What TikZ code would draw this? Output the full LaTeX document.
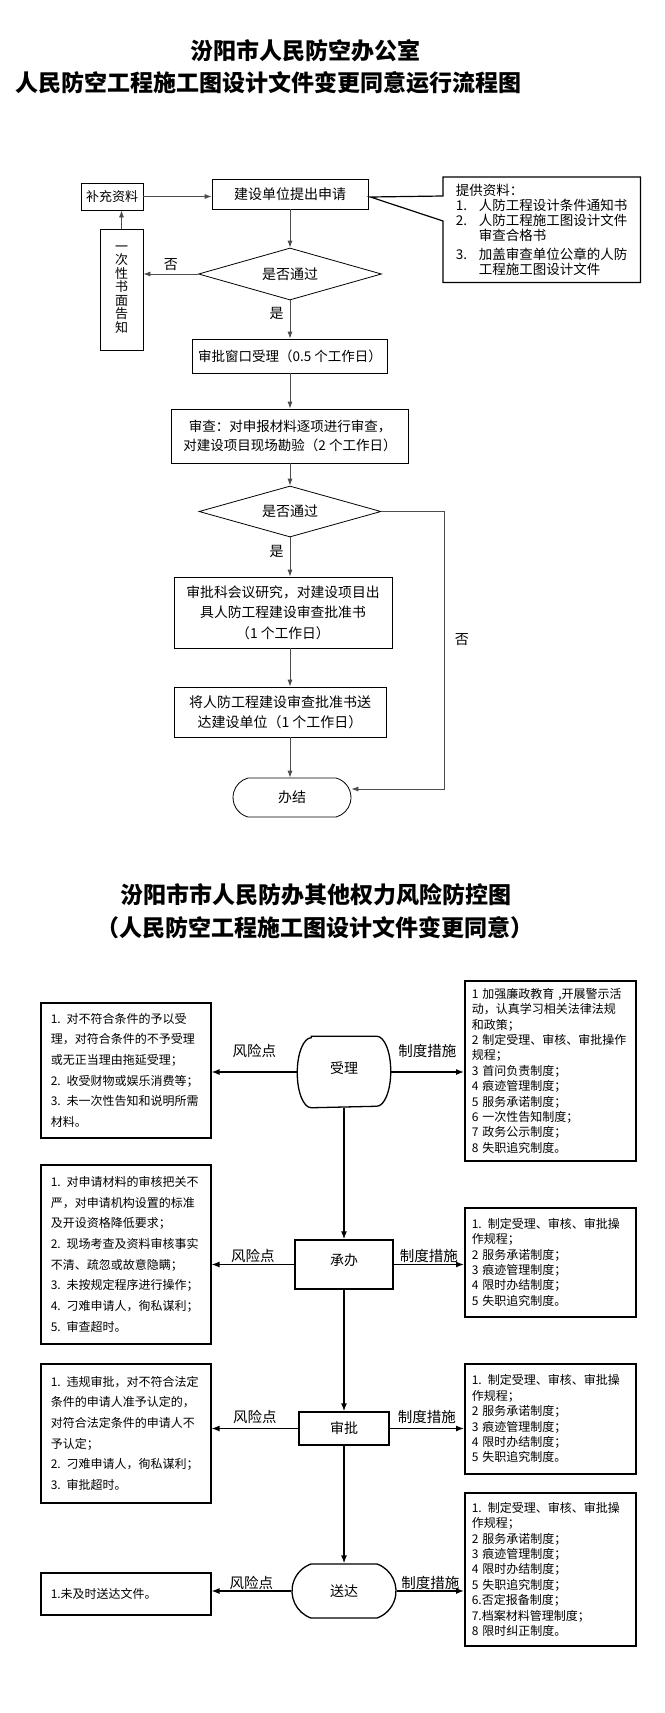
\documentclass[tikz,border=0pt]{standalone}
\usepackage{fontspec}
\setmainfont{Noto Sans CJK SC}
\usetikzlibrary{shapes.geometric,shapes.misc,arrows.meta,positioning,calc}

\newcommand{\fsz}[2]{\fontsize{#1pt}{#2pt}\selectfont}

\begin{document}
\begin{tikzpicture}[
    x=1pt, y=-1pt,
    title/.style={font=\fsz{23}{26}\bfseries, inner sep=0pt},
    box/.style={rectangle, draw, line width=0.8pt, align=center, inner sep=0pt, font=\fsz{13.5}{19}},
    choice/.style={diamond, draw, line width=0.8pt, aspect=3.5, inner sep=0pt, font=\fsz{14}{16}},
    terminal/.style={rounded rectangle, draw, line width=1.2pt, inner sep=0pt, font=\fsz{14}{16}},
    arrow/.style={-{Latex[length=7pt,width=5pt]}, line width=0.8pt, draw=black!70},
    riskbox/.style={rectangle, draw, line width=1.5pt, anchor=north west, align=left, inner ysep=0pt},
    lrisk/.style={riskbox, minimum width=170pt, text width=150pt, inner xsep=10pt, font=\fsz{12}{20.7}},
    rrisk/.style={riskbox, minimum width=171pt, text width=157pt, inner xsep=7pt, font=\fsz{12}{15.4}},
    stage/.style={rectangle, draw, line width=1.5pt, inner sep=0pt, font=\fsz{14}{16}},
    rarrow/.style={-{Latex[length=8pt,width=6pt]}, line width=1.3pt},
    lbl/.style={font=\fsz{14.5}{16}, inner sep=0pt}
]
\fill[white] (0,0) rectangle (664,1713);
\useasboundingbox (0,0) rectangle (664,1713);

% Titles
\node[title] (t1) at (305,51) {汾阳市人民防空办公室};
\node[title] (t2) at (268,83) {人民防空工程施工图设计文件变更同意运行流程图};

% Application flow
\node[box, font=\fsz{13}{15}, minimum width=62pt, minimum height=27pt] (bczl) at (112,196.5) {补充资料};
\node[box, font=\fsz{14}{16}, minimum width=156pt, minimum height=30pt] (sq) at (290,194) {建设单位提出申请};
\node[anchor=north west, align=left, inner xsep=10pt, inner ysep=0pt, minimum width=197pt, minimum height=105pt, font=\fsz{13.5}{15}] (zl) at (443,177) {提供资料：\\
\makebox[23pt][l]{1.}人防工程设计条件通知书\\
\makebox[23pt][l]{2.}人防工程施工图设计文件\\
\hspace*{23pt}审查合格书\\[4pt]
\makebox[23pt][l]{3.}加盖审查单位公章的人防\\
\hspace*{23pt}工程施工图设计文件};
\node[choice, minimum width=183pt, minimum height=52pt] (pass1) at (290,274) {是否通过};
\node[box, font=\fsz{13}{13.5}, minimum width=43pt, minimum height=121pt] (yici) at (121.5,289.5) {一\\次\\性\\书\\面\\告\\知};
\node[box, minimum width=195pt, minimum height=34pt] (ck) at (290,356) {审批窗口受理（0.5 个工作日）};
\node[box, minimum width=237pt, minimum height=54pt] (sc) at (290,436) {审查：对申报材料逐项进行审查，\\对建设项目现场勘验（2 个工作日）};
\node[choice, minimum width=182pt, minimum height=51pt] (pass2) at (290,511.5) {是否通过};
\node[box, font=\fsz{13.8}{20.5}, minimum width=218pt, minimum height=71pt] (spk) at (283,612.5) {审批科会议研究，对建设项目出\\具人防工程建设审查批准书\\（1 个工作日）};
\node[box, font=\fsz{14}{20}, minimum width=212pt, minimum height=50pt] (sd) at (280,712) {将人防工程建设审查批准书送\\达建设单位（1 个工作日）};
\node[terminal, line width=0.8pt, rounded rectangle arc length=150, minimum width=118pt, minimum height=39pt] (bj) at (292,797.5) {办结};

% Callout outline
\draw[line width=1.2pt] (zl.north west) -- (zl.north east) -- (zl.south east) -- (zl.south west)
    -- ([yshift=-44pt]zl.north west) -- ([xshift=2pt,yshift=-3pt]sq.east) -- ([yshift=-19pt]zl.north west) -- cycle;

% Arrows
\draw[arrow] (bczl.east) -- (bczl.east -| sq.west);
\draw[arrow] (sq.south) -- (pass1.north);
\draw[arrow] (pass1.west) -- (pass1.west -| yici.east) node[midway, above=3pt, font=\fsz{14}{16}, inner sep=0pt] {否};
\draw[arrow] (yici.north) -- (yici.north |- bczl.south);
\draw[arrow] (pass1.south) -- (ck.north) node[pos=0.33, left=6pt, font=\fsz{14}{16}, inner sep=0pt] {是};
\draw[arrow] (ck) -- (sc);
\draw[arrow] (sc) -- (pass2);
\draw[arrow] (pass2.south) -- (pass2.south |- spk.north) node[pos=0.37, left=6pt, font=\fsz{14}{16}, inner sep=0pt] {是};
\draw[arrow] (pass2.south |- spk.south) -- (pass2.south |- sd.north);
\draw[arrow] (pass2.south |- sd.south) -- (pass2.south |- bj.north);
\draw[arrow] (pass2.east) -- ++(63,0) |- ([yshift=8.5pt]bj.east) node[pos=0.23, right=10pt, font=\fsz{14}{16}, inner sep=0pt] {否};

% Risk control chart
\node[title] (t3) at (316,895) {汾阳市市人民防办其他权力风险防控图};
\node[title] (t4) at (315,928) {（人民防空工程施工图设计文件变更同意）};

% Stages
\node[stage, draw=none, minimum width=92pt, minimum height=70pt] (sl) at (344,1072) {\raisebox{8pt}{受理}};
\draw[line width=1.3pt] ([xshift=14pt]sl.north west) -- ([xshift=-14pt]sl.north east)
    arc[start angle=90, end angle=-90, x radius=14pt, y radius=35pt] -- ([xshift=14pt]sl.south west)
    arc[start angle=270, end angle=90, x radius=14pt, y radius=35pt] -- cycle;
\node[stage, minimum width=98pt, minimum height=49pt] (cb) at (344,1264.5) {\raisebox{9pt}{承办}};
\node[stage, minimum width=90pt, minimum height=33pt] (sp) at (344,1428.5) {审批};
\node[terminal, line width=1.3pt, rounded rectangle arc length=140, minimum width=104pt, minimum height=54pt] (sdd) at (344,1591) {送达};

% Risk points
\node[lrisk, minimum height=135pt] (fx1) at (40,1002) {1. 对不符合条件的予以受\\理，对符合条件的不予受理\\或无正当理由拖延受理；\\2. 收受财物或娱乐消费等；\\3. 未一次性告知和说明所需\\材料。};
\node[lrisk, minimum height=179pt] (fx2) at (40,1164) {1. 对申请材料的审核把关不\\严，对申请机构设置的标准\\及开设资格降低要求；\\2. 现场考查及资料审核事实\\不清、疏忽或故意隐瞒；\\3. 未按规定程序进行操作；\\4. 刁难申请人，徇私谋利；\\5. 审查超时。};
\node[lrisk, minimum height=139pt] (fx3) at (40,1363) {1. 违规审批，对不符合法定\\条件的申请人准予认定的，\\对符合法定条件的申请人不\\予认定；\\2. 刁难申请人，徇私谋利；\\3. 审批超时。};
\node[lrisk, minimum height=42pt] (fx4) at (40,1572) {1.未及时送达文件。};

% Control measures
\node[rrisk, minimum height=180pt] (zd1) at (464,980) {1 加强廉政教育 ,开展警示活\\动，认真学习相关法律法规\\和政策；\\2 制定受理、审核、审批操作\\规程；\\3 首问负责制度；\\4 痕迹管理制度；\\5 服务承诺制度；\\6 一次性告知制度；\\7 政务公示制度；\\8 失职追究制度。};
\node[rrisk, minimum height=109pt] (zd2) at (464,1207) {1. 制定受理、审核、审批操\\作规程；\\2 服务承诺制度；\\3 痕迹管理制度；\\4 限时办结制度；\\5 失职追究制度。};
\node[rrisk, minimum height=110pt] (zd3) at (464,1363) {1. 制定受理、审核、审批操\\作规程；\\2 服务承诺制度；\\3 痕迹管理制度；\\4 限时办结制度；\\5 失职追究制度。};
\node[rrisk, minimum height=153pt] (zd4) at (464,1492) {1. 制定受理、审核、审批操\\作规程；\\2 服务承诺制度；\\3 痕迹管理制度；\\4 限时办结制度；\\5 失职追究制度；\\6.否定报备制度；\\7.档案材料管理制度；\\8 限时纠正制度。};

% Connections
\draw[rarrow] (sl.west) -- (sl.west -| fx1.east) node[lbl, midway, above=14pt] {风险点};
\draw[rarrow] (sl.east) -- (sl.east -| zd1.west) node[lbl, midway, above=14pt] {制度措施};
\draw[rarrow] (cb.west) -- (cb.west -| fx2.east) node[lbl, midway, above=1.5pt] {风险点};
\draw[rarrow] (cb.east) -- (cb.east -| zd2.west) node[lbl, midway, above=1.5pt] {制度措施};
\draw[rarrow] (sp.west) -- (sp.west -| fx3.east) node[lbl, midway, above=4pt] {风险点};
\draw[rarrow] (sp.east) -- (sp.east -| zd3.west) node[lbl, midway, above=4pt] {制度措施};
\draw[rarrow] (sdd.west) -- (sdd.west -| fx4.east) node[lbl, midway, above=0.5pt] {风险点};
\draw[rarrow] (sdd.east) -- (sdd.east -| zd4.west) node[lbl, midway, above=0.5pt] {制度措施};
\draw[rarrow] (sl.south) -- (cb.north);
\draw[rarrow] (cb.south) -- (sp.north);
\draw[rarrow] (sp.south) -- (sdd.north);

\end{tikzpicture}
\end{document}
